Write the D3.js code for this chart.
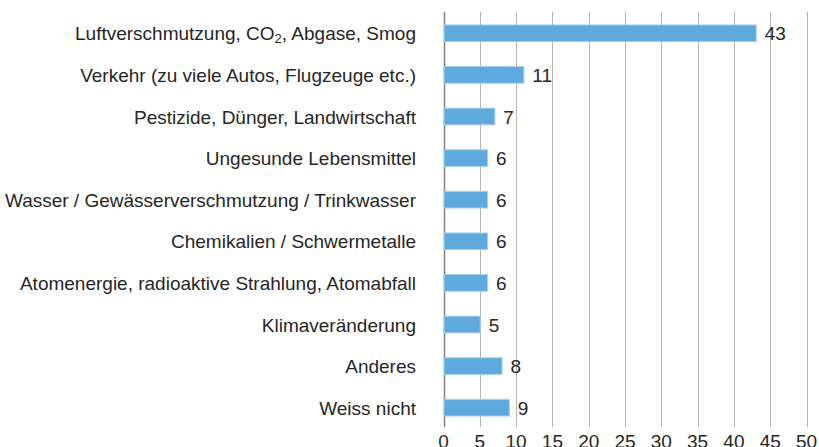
<!DOCTYPE html>
<html lang="de">
<head>
<meta charset="UTF-8">
<title>Umweltprobleme</title>
<script src="https://d3js.org/d3.v7.min.js"></script>
<style>
  body { margin: 0; background: #fff; }
  text { font-family: "Liberation Sans", Arial, sans-serif; fill: #262626; }
</style>
</head>
<body>
<div id="chart"></div>
<script>
// categories (top to bottom) and values
const categories = [
  "Luftverschmutzung, CO2, Abgase, Smog",
  "Verkehr (zu viele Autos, Flugzeuge etc.)",
  "Pestizide, Dünger, Landwirtschaft",
  "Ungesunde Lebensmittel",
  "Wasser / Gewässerverschmutzung / Trinkwasser",
  "Chemikalien / Schwermetalle",
  "Atomenergie, radioaktive Strahlung, Atomabfall",
  "Klimaveränderung",
  "Anderes",
  "Weiss nicht"
];
const values = [43, 11, 7, 6, 6, 6, 6, 5, 8, 9];
const ticks = [0, 5, 10, 15, 20, 25, 30, 35, 40, 45, 50];

const width = 819, height = 447;
const svg = d3.select("#chart").append("svg")
  .attr("width", width).attr("height", height);

const x = d3.scaleLinear().domain([0, 50]).range([443.5, 806.5]);
const y = d3.scaleBand().domain(categories).range([12.5, 428.5]).paddingInner(0.6).paddingOuter(0.3);

// gridlines
svg.append("g").selectAll("line").data(ticks).join("line")
  .attr("x1", d => Math.round(x(d)) + 0.5).attr("x2", d => Math.round(x(d)) + 0.5)
  .attr("y1", 12).attr("y2", 427)
  .attr("stroke", d => d === 0 ? "#808080" : "#b4b4b4")
  .attr("stroke-width", d => d === 0 ? 1.5 : 1);

// bars
svg.append("g").selectAll("rect").data(values).join("rect")
  .attr("x", x(0) + 0.5)
  .attr("y", (d, i) => y(categories[i]))
  .attr("width", d => x(d) - x(0))
  .attr("height", y.bandwidth())
  .attr("fill", "#5ea9dd")
  .attr("stroke", "#a6cfee")
  .attr("stroke-width", 1);

// value labels
svg.append("g").selectAll("text").data(values).join("text")
  .attr("x", d => x(d) + 9)
  .attr("y", (d, i) => y(categories[i]) + y.bandwidth() / 2 + 7)
  .attr("font-size", 19)
  .text(d => d);

// category labels
const lab = svg.append("g").selectAll("text").data(categories).join("text")
  .attr("x", 416)
  .attr("y", d => y(d) + y.bandwidth() / 2 + 7)
  .attr("text-anchor", "end")
  .attr("font-size", 19);
lab.each(function(d) {
  const t = d3.select(this);
  if (d.includes("CO2")) {
    const [a, b] = d.split("CO2");
    t.append("tspan").text(a + "CO");
    t.append("tspan").attr("font-size", 13).attr("dy", 3).text("2");
    t.append("tspan").attr("dy", -3).text(b + " ");
  } else {
    t.text(d);
  }
});

// x axis tick labels
svg.append("g").selectAll("text").data(ticks).join("text")
  .attr("x", d => x(d))
  .attr("y", 448)
  .attr("text-anchor", "middle")
  .attr("font-size", 19)
  .text(d => d);
</script>
</body>
</html>
